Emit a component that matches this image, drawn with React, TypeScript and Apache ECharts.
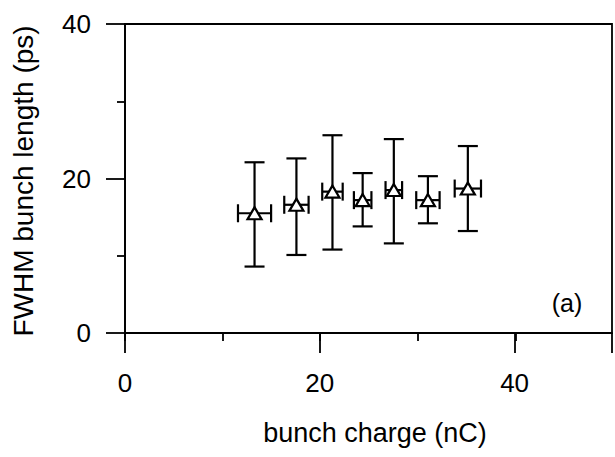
import React, { useEffect, useRef } from "react";
import * as echarts from "echarts";

const charge = [13.3, 17.6, 21.3, 24.4, 27.6, 31.1, 35.2];
const chargeErr = [1.7, 1.25, 1.05, 0.9, 0.85, 1.2, 1.35];
const length = [15.5, 16.6, 18.3, 17.2, 18.5, 17.2, 18.7];
const lengthUpper = [22.1, 22.6, 25.6, 20.7, 25.1, 20.3, 24.2];
const lengthLower = [8.6, 10.1, 10.8, 13.8, 11.6, 14.2, 13.2];
const xTicks = [0, 20, 40];
const yTicks = [0, 20, 40];

const FONT = "Liberation Sans, Arial, Helvetica, sans-serif";

export default function App() {
  const ref = useRef<HTMLDivElement>(null);
  useEffect(() => {
    if (!ref.current) return;
    const chart = echarts.init(ref.current, undefined, { renderer: "svg" });
    const errData = charge.map((c, i) => [c, length[i], chargeErr[i], lengthLower[i], lengthUpper[i]]);
    const pts = charge.map((c, i) => [c, length[i]]);
    const lineStyle = { color: "#000", width: 1.8 };
    chart.setOption({
      animation: false,
      backgroundColor: "#fff",
      grid: [
        { left: 125, top: 24, right: 2, bottom: 124, show: true, borderColor: "#000", borderWidth: 1.8, backgroundColor: "transparent" },
        { left: 125, top: 24, width: 390.4, bottom: 124, show: false },
      ],
      xAxis: [
        {
          type: "value", gridIndex: 0, min: 0, max: 50, interval: 20,
          axisLine: { show: true, onZero: false, lineStyle },
          axisTick: { show: true, length: 20, lineStyle },
          splitLine: { show: false },
          axisLabel: {
            margin: 37, color: "#000", fontSize: 26, fontFamily: FONT,
            formatter: (v: number) => (xTicks.includes(v) ? String(v) : ""),
          },
        },
        {
          type: "value", gridIndex: 1, min: 0, max: 40, interval: 10,
          axisLine: { show: false },
          axisTick: { show: true, length: 8, lineStyle },
          axisLabel: { show: false },
          splitLine: { show: false },
        },
      ],
      yAxis: [
        {
          type: "value", gridIndex: 0, min: 0, max: 40, interval: 20,
          axisLine: { show: true, onZero: false, lineStyle },
          axisTick: { show: true, length: 19, lineStyle },
          minorTick: { show: true, splitNumber: 2, length: 8, lineStyle },
          splitLine: { show: false },
          minorSplitLine: { show: false },
          axisLabel: {
            margin: 34, color: "#000", fontSize: 26, fontFamily: FONT,
            formatter: (v: number) => (yTicks.includes(v) ? String(v) : ""),
          },
        },
        {
          type: "value", gridIndex: 1, min: 0, max: 40, show: false,
        },
      ],
      graphic: [
        {
          type: "text", x: 375, y: 433,
          style: { text: "bunch charge (nC)", font: `27px ${FONT}`, fill: "#000", textAlign: "center", textVerticalAlign: "middle" },
        },
        {
          type: "text", x: 23, y: 181, rotation: Math.PI / 2,
          style: { text: "FWHM bunch length (ps)", font: `28px ${FONT}`, fill: "#000", textAlign: "center", textVerticalAlign: "middle" },
        },
        {
          type: "text", x: 567, y: 303,
          style: { text: "(a)", font: `25px ${FONT}`, fill: "#000", textAlign: "center", textVerticalAlign: "middle" },
        },
      ],
      series: [
        {
          type: "custom",
          xAxisIndex: 0, yAxisIndex: 0,
          data: errData,
          renderItem: (params: any, api: any) => {
            const x = api.value(0), y = api.value(1), xe = api.value(2), lo = api.value(3), hi = api.value(4);
            const pc = api.coord([x, y]);
            const pl = api.coord([x - xe, y]);
            const pr = api.coord([x + xe, y]);
            const pt = api.coord([x, hi]);
            const pb = api.coord([x, lo]);
            const st = { stroke: "#000", lineWidth: 2.2 };
            const vc = 10, hc = 9;
            return {
              type: "group",
              children: [
                { type: "line", shape: { x1: pt[0], y1: pt[1], x2: pb[0], y2: pb[1] }, style: st },
                { type: "line", shape: { x1: pt[0] - vc, y1: pt[1], x2: pt[0] + vc, y2: pt[1] }, style: st },
                { type: "line", shape: { x1: pb[0] - vc, y1: pb[1], x2: pb[0] + vc, y2: pb[1] }, style: st },
                { type: "line", shape: { x1: pl[0], y1: pc[1], x2: pr[0], y2: pc[1] }, style: st },
                { type: "line", shape: { x1: pl[0], y1: pc[1] - hc, x2: pl[0], y2: pc[1] + hc }, style: st },
                { type: "line", shape: { x1: pr[0], y1: pc[1] - hc, x2: pr[0], y2: pc[1] + hc }, style: st },
              ],
            };
          },
          z: 2,
        },
        {
          type: "scatter",
          xAxisIndex: 0, yAxisIndex: 0,
          data: pts,
          symbol: "triangle",
          symbolSize: [14, 12],
          itemStyle: { color: "#fff", borderColor: "#000", borderWidth: 2.2, opacity: 1 },
          z: 3,
        },
      ],
    });
    return () => chart.dispose();
  }, []);
  return <div ref={ref} style={{ position: "fixed", left: 0, top: 0, width: 615, height: 457 }} />;
}
